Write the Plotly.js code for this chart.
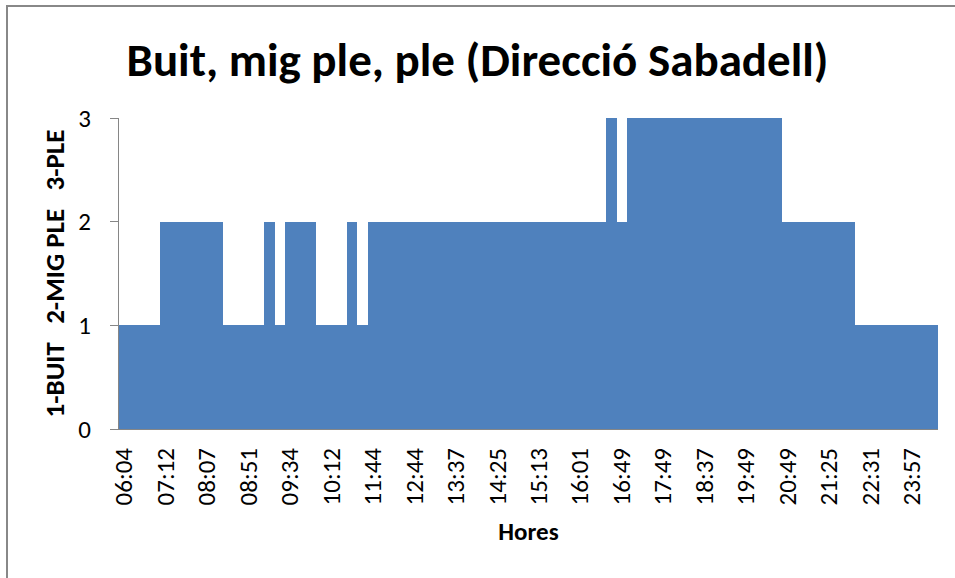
<!DOCTYPE html>
<html>
<head>
<meta charset="utf-8">
<script src="https://cdn.plot.ly/plotly-3.0.1.min.js"></script>
<style>
  html, body { margin: 0; padding: 0; background: #ffffff; }
  #wrap { position: relative; width: 955px; height: 578px; }
  #chart { position: absolute; left: 0; top: 0; width: 955px; height: 578px; }
  #frame { position: absolute; left: 6px; top: 5px; width: 1000px; height: 1000px;
           border-left: 2px solid #888888; border-top: 2px solid #888888; pointer-events: none; }
</style>
</head>
<body>
<div id="wrap">
  <div id="chart"></div>
  <div id="frame"></div>
</div>
<script>
// Tick labels shown under every 4th sample
const hourLabels = ["06:04","07:12","08:07","08:51","09:34","10:12","11:44","12:44","13:37","14:25",
                    "15:13","16:01","16:49","17:49","18:37","19:49","20:49","21:25","22:31","23:57"];
const labelEvery = 4;

// Occupancy level per sample: 1 = buit, 2 = mig ple, 3 = ple
const occupancy = [
  1,1,1,1,
  2,2,2,2,2,2,
  1,1,1,1,
  2,
  1,
  2,2,2,
  1,1,1,
  2,
  1,
  2,2,2,2,2,2,2,2,2,2,2,2,2,2,2,2,2,2,2,2,2,2,2,
  3,
  2,
  3,3,3,3,3,3,3,3,3,3,3,3,3,3,3,
  2,2,2,2,2,2,2,
  1,1,1,1,1,1,1,1
];

const yTicks = [0, 1, 2, 3];

const sampleIdx = occupancy.map((_, i) => i);
const tickPos = hourLabels.map((_, i) => i * labelEvery);

const FONT = "Carlito, Lato, 'Open Sans', sans-serif";

Plotly.newPlot('chart', [{
  type: 'bar',
  x: sampleIdx,
  y: occupancy,
  width: 1,
  marker: { color: '#4F81BD', line: { width: 0 } },
  hoverinfo: 'skip'
}], {
  width: 955, height: 578,
  paper_bgcolor: '#ffffff', plot_bgcolor: '#ffffff',
  margin: { l: 119, r: 17, t: 118, b: 149, pad: 0 },
  bargap: 0,
  showlegend: false,
  font: { family: FONT, color: '#000000' },
  title: {
    text: 'Buit, mig ple, ple (Direcció Sabadell)',
    font: { family: FONT, size: 47, weight: 700, color: '#000000' },
    x: 0.5, xref: 'container', xanchor: 'center',
    y: 1 - 60 / 578, yref: 'container', yanchor: 'middle'
  },
  xaxis: {
    range: [-0.5, occupancy.length - 0.5],
    tickmode: 'array', tickvals: tickPos, ticktext: hourLabels,
    tickangle: -90, ticks: '', ticklabelstandoff: 8,
    tickfont: { family: FONT, size: 25, color: '#000000' },
    showline: true, linecolor: '#868686', linewidth: 1,
    showgrid: false, zeroline: false, fixedrange: true,
    title: { text: 'Hores', font: { family: FONT, size: 25, weight: 700, color: '#000000' }, standoff: 18 }
  },
  yaxis: {
    range: [0, 3],
    tickmode: 'array', tickvals: yTicks, ticktext: yTicks.map(String),
    ticks: 'outside', ticklen: 8, tickcolor: '#868686', tickwidth: 1,
    tickfont: { family: FONT, size: 25, color: '#000000' },
    ticklabelstandoff: 14,
    showline: true, linecolor: '#868686', linewidth: 1,
    showgrid: false, zeroline: false, fixedrange: true,
    title: { text: '1-BUIT\u00a0\u00a0 2-MIG PLE\u00a0\u00a0 3-PLE',
             font: { family: FONT, size: 27, weight: 700, color: '#000000' }, standoff: 5 }
  }
}, { displayModeBar: false, staticPlot: true });
</script>
</body>
</html>
